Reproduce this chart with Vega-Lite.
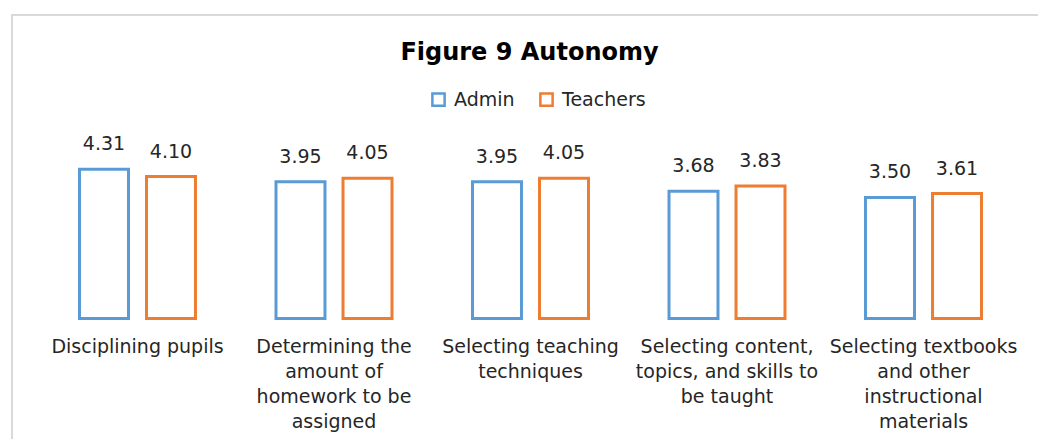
{
  "$schema": "https://vega.github.io/schema/vega-lite/v6.json",
  "width": 1027,
  "height": 425,
  "autosize": {"type": "none"},
  "padding": {"left": 12, "top": 15, "right": 0, "bottom": 0},
  "background": "white",
  "title": {
    "text": "Figure 9 Autonomy",
    "font": "DejaVu Sans",
    "fontSize": 24,
    "fontWeight": "bold",
    "color": "#000000",
    "anchor": "middle",
    "frame": "group",
    "baseline": "alphabetic",
    "offset": -69,
    "dx": 4
  },
  "config": {
    "view": {"stroke": "#D9D9D9", "strokeWidth": 2},
    "font": "DejaVu Sans"
  },
  "data": {
    "values": [
      {"category": "Disciplining pupils", "group": "Admin", "value": 4.31},
      {"category": "Disciplining pupils", "group": "Teachers", "value": 4.10},
      {"category": "Determining the\namount of\nhomework to be\nassigned", "group": "Admin", "value": 3.95},
      {"category": "Determining the\namount of\nhomework to be\nassigned", "group": "Teachers", "value": 4.05},
      {"category": "Selecting teaching\ntechniques", "group": "Admin", "value": 3.95},
      {"category": "Selecting teaching\ntechniques", "group": "Teachers", "value": 4.05},
      {"category": "Selecting content,\ntopics, and skills to\nbe taught", "group": "Admin", "value": 3.68},
      {"category": "Selecting content,\ntopics, and skills to\nbe taught", "group": "Teachers", "value": 3.83},
      {"category": "Selecting textbooks\nand other\ninstructional\nmaterials", "group": "Admin", "value": 3.50},
      {"category": "Selecting textbooks\nand other\ninstructional\nmaterials", "group": "Teachers", "value": 3.61}
    ]
  },
  "encoding": {
    "x": {
      "field": "category",
      "type": "nominal",
      "sort": null,
      "scale": {"range": [27.25, 1009.75], "paddingInner": 0.4097, "paddingOuter": 0.2048},
      "axis": {
        "title": null,
        "orient": "bottom",
        "offset": -121.5,
        "domain": false,
        "ticks": false,
        "tickSize": 0,
        "labelPadding": 34,
        "labelAngle": 0,
        "labelBaseline": "alphabetic",
        "labelFont": "DejaVu Sans",
        "labelFontSize": 19,
        "labelLineHeight": 25,
        "labelColor": "#262626",
        "labelLimit": 0,
        "labelExpr": "split(datum.label, '\\n')"
      }
    },
    "xOffset": {
      "field": "group",
      "type": "nominal",
      "scale": {"domain": ["Admin", "Teachers"], "paddingInner": 0.269, "paddingOuter": 0}
    },
    "y": {
      "field": "value",
      "type": "quantitative",
      "scale": {"domain": [-3.512, 8.771], "nice": false, "zero": false},
      "axis": null
    }
  },
  "layer": [
    {
      "mark": {"type": "bar", "fill": "white", "strokeWidth": 3},
      "encoding": {
        "stroke": {
          "field": "group",
          "type": "nominal",
          "scale": {"domain": ["Admin", "Teachers"], "range": ["#5B9BD5", "#ED7D31"]},
          "legend": {
            "title": null,
            "orient": "none",
            "direction": "horizontal",
            "legendX": 417,
            "legendY": 75,
            "padding": 0,
            "symbolType": "square",
            "symbolSize": 150,
            "symbolStrokeWidth": 2.5,
            "symbolFillColor": "white",
            "labelFont": "DejaVu Sans",
            "labelFontSize": 19,
            "labelColor": "#262626",
            "labelOffset": 6,
            "columnPadding": 20
          }
        }
      }
    },
    {
      "mark": {"type": "text", "baseline": "alphabetic", "dy": -19, "font": "DejaVu Sans", "fontSize": 19, "color": "#262626"},
      "encoding": {
        "text": {"field": "value", "type": "quantitative", "format": ".2f"}
      }
    }
  ]
}
